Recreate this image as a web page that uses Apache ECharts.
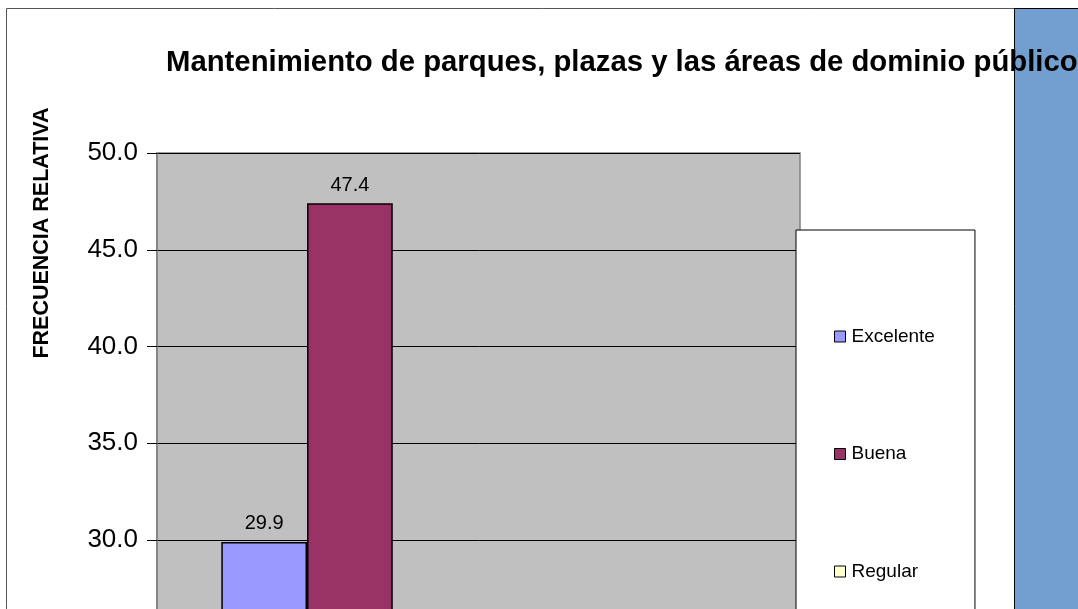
<!DOCTYPE html>
<html>
<head>
<meta charset="utf-8">
<script src="https://cdn.jsdelivr.net/npm/echarts@6/dist/echarts.min.js"></script>
<style>
  html, body { margin: 0; padding: 0; background: #fff; overflow: hidden; }
  #chart { width: 1078px; height: 1200px; }
</style>
</head>
<body>
<div id="chart"></div>
<script>
// chart data (the lower part of the chart is cut off in the picture)
var categories = [''];
var seriesNames = ['Excelente', 'Buena', 'Regular', 'Mala', 'Pésima', 'NS/NR'];
var seriesValues = [29.9, 47.4, 17.5, 3.1, 1.0, 1.1];
var seriesColors = ['#9999ff', '#993366', '#ffffcc', '#ccffff', '#660066', '#ff8080'];
var yMin = 0, yMax = 50, yStep = 5;
var titleText = 'Mantenimiento de parques, plazas y las áreas de dominio público';
var yName = 'FRECUENCIA RELATIVA';

var font = '"Liberation Sans", Arial, sans-serif';

var series = [];
for (var i = 0; i < seriesNames.length; i++) {
    series.push({
        name: seriesNames[i],
        type: 'bar',
        data: [seriesValues[i]],
        barGap: 0,
        barCategoryGap: '20%',
        itemStyle: { color: seriesColors[i], borderColor: '#000', borderWidth: 1.5 },
        label: {
            show: true,
            position: 'top',
            distance: 8,
            fontFamily: font,
            fontSize: 20,
            color: '#000',
            formatter: function (p) { return p.value.toFixed(1); }
        }
    });
}

var option = {
    animation: false,
    backgroundColor: '#fff',
    textStyle: { fontFamily: font },
    title: {
        text: titleText,
        left: 166,
        top: 48,
        padding: 0,
        textStyle: { fontFamily: font, fontSize: 29.3, fontWeight: 'bold', color: '#000' }
    },
    graphic: [
        {
            type: 'rect', z: -10,
            shape: { x: 6.5, y: 8.5, width: 1100, height: 1300 },
            style: { fill: '#fff', stroke: '#555', lineWidth: 1 }
        },
        {
            type: 'rect', z: -9,
            shape: { x: 1014.5, y: 8.5, width: 80, height: 1300 },
            style: { fill: '#729fcf', stroke: '#000', lineWidth: 1 }
        },
        {
            type: 'text', z: 5,
            x: 42, y: 233, rotation: Math.PI / 2,
            style: {
                text: yName,
                fontFamily: font, fontSize: 21.5, fontWeight: 'bold', fill: '#000',
                align: 'center', verticalAlign: 'middle'
            }
        }
    ],
    legend: {
        orient: 'vertical',
        left: 796,
        top: 230,
        data: seriesNames,
        backgroundColor: '#fff',
        borderColor: '#000',
        borderWidth: 1,
        padding: [97, 40, 97, 38],
        itemWidth: 11,
        itemHeight: 11,
        itemGap: 98.5,
        icon: 'rect',
        itemStyle: { borderColor: '#000', borderWidth: 1 },
        textStyle: { fontFamily: font, fontSize: 19, color: '#000', padding: [0, 0, 0, 1] }
    },
    grid: {
        left: 157,
        top: 153,
        width: 643,
        height: 967.5,
        show: true,
        backgroundColor: '#c0c0c0',
        borderColor: '#808080',
        borderWidth: 1.5
    },
    xAxis: {
        type: 'category',
        data: categories,
        axisLine: { show: false },
        axisTick: { show: false },
        axisLabel: { show: false }
    },
    yAxis: {
        type: 'value',
        min: yMin,
        max: yMax,
        interval: yStep,
        axisLine: { show: true, lineStyle: { color: '#808080', width: 1.5 } },
        axisTick: { show: true, length: 10, lineStyle: { color: '#000' } },
        axisLabel: {
            margin: 19,
            fontFamily: font,
            fontSize: 26,
            color: '#000',
            formatter: function (v) { return v.toFixed(1); }
        },
        splitLine: { show: true, lineStyle: { color: '#000', width: 1 } }
    },
    series: series
};

var myChart = echarts.init(document.getElementById('chart'));
myChart.setOption(option);
</script>
</body>
</html>
